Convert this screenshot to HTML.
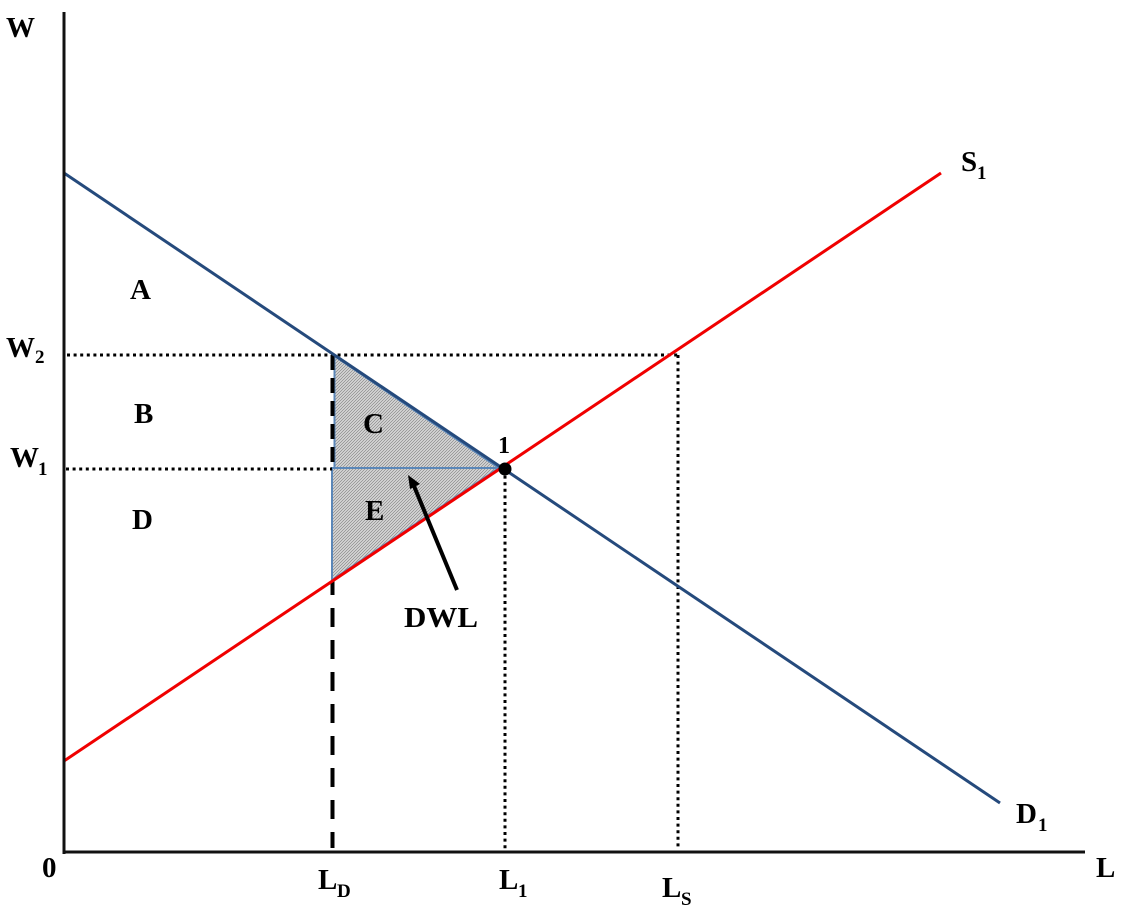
<!DOCTYPE html>
<html lang="en">
<head>
<meta charset="utf-8">
<title>Deadweight loss labor market diagram</title>
<style>
html,body{margin:0;padding:0;background:#fff;width:1124px;height:914px;overflow:hidden}
svg{display:block}
text{font-family:"Liberation Serif",serif;font-weight:bold;fill:#000;font-size:29px}
.sub{font-size:19px}
</style>
</head>
<body>
<svg id="chart" width="1124" height="914" viewBox="0 0 1124 914" xmlns="http://www.w3.org/2000/svg">
<defs>
<pattern id="hatch" patternUnits="userSpaceOnUse" width="3" height="3">
<rect width="3" height="3" fill="#e4e4e4"/>
<path d="M0 3L3 0M-1 1L1 -1M2 4L4 2" stroke="#969696" stroke-width="1"/>
</pattern>
</defs>
<g id="marks"></g>
<text x="6" y="37">W</text>
<text x="1096" y="877">L</text>
<text x="42" y="877">0</text>
<text x="6" y="357">W<tspan class="sub" x="35" y="363">2</tspan></text>
<text x="10" y="467">W<tspan class="sub" x="38" y="475">1</tspan></text>
<text x="318" y="889">L<tspan class="sub" x="337" y="897">D</tspan></text>
<text x="499" y="889">L<tspan class="sub" x="518" y="897">1</tspan></text>
<text x="662" y="897">L<tspan class="sub" x="681" y="905">S</tspan></text>
<text x="961" y="171">S<tspan class="sub" x="977" y="179">1</tspan></text>
<text x="1016" y="823">D<tspan class="sub" x="1038" y="831">1</tspan></text>
<text x="130" y="299">A</text>
<text x="134" y="423">B</text>
<text x="363" y="433">C</text>
<text x="132" y="529">D</text>
<text x="365" y="520">E</text>
<text x="498" y="453" style="font-size:24px">1</text>
<text x="404" y="627" textLength="74" lengthAdjust="spacingAndGlyphs">DWL</text>
</svg>
<script>
// Values are in chart units (quantity of labor L, wage W).
const supplyL = [0, 87.7];
const supplyW = [9.1, 67.9];
const demandL = [0, 93.6];
const demandW = [67.9, 4.9];
const wageLevels = [49.7, 38.3];
const laborLevels = [26.8, 44.1, 61.4];
const supplyAtLD = 27.1;
const axisMaxW = 84;

function sx(v){ return 64 + v * 10; }
function sy(v){ return 852 - v * 10; }

const NS = 'http://www.w3.org/2000/svg';
const marks = document.getElementById('marks');
function add(tag){
  const el = document.createElementNS(NS, tag);
  marks.appendChild(el);
  return el;
}
function line(el, x1, y1, x2, y2, color, width, dash){
  el.setAttribute('x1', x1);
  el.setAttribute('y1', y1);
  el.setAttribute('x2', x2);
  el.setAttribute('y2', y2);
  el.setAttribute('stroke', color);
  el.setAttribute('stroke-width', width);
  if (dash) el.setAttribute('stroke-dasharray', dash);
}

const [w2, w1] = wageLevels;
const [lD, l1, lS] = laborLevels;

// Deadweight loss triangle: upper part (C) and lower part (E)
const triC = add('polygon');


triC.setAttribute('points', (sx(lD)+2.5)+','+(sy(w2)+1)+' '+(sx(l1)-6)+','+(sy(w1)-1)+' '+(sx(lD)+2.5)+','+(sy(w1)-1));
triC.setAttribute('fill', 'url(#hatch)');
triC.setAttribute('stroke', '#5b87b8');
triC.setAttribute('stroke-width', '2');

const triE = add('polygon');


triE.setAttribute('points', sx(lD)+','+(sy(w1)-1)+' '+(sx(l1)-6)+','+(sy(w1)-1)+' '+sx(lD)+','+(sy(supplyAtLD)-1));
triE.setAttribute('fill', 'url(#hatch)');
triE.setAttribute('stroke', '#5b87b8');
triE.setAttribute('stroke-width', '2');

// Dotted guides
const w2Guide = add('line');


line(w2Guide, 67, sy(w2), sx(lS), sy(w2), '#000', 3, '3 3.6');

const w1Guide = add('line');


line(w1Guide, 66, sy(w1), sx(lD), sy(w1), '#000', 3, '3 3.6');

const l1Guide = add('line');


line(l1Guide, sx(l1), sy(w1), sx(l1), 850, '#000', 3, '3 3.6');

const lSGuide = add('line');


line(lSGuide, sx(lS), sy(w2), sx(lS), 850, '#000', 3, '3 3.6');

// Dashed LD line, upper and lower parts
const lDUpper = add('line');


line(lDUpper, sx(lD)+0.5, sy(w2), sx(lD)+0.5, sy(w1)-3, '#000', 4, '15 8');

const lDLower = add('line');


line(lDLower, sx(lD)+0.5, sy(supplyAtLD), sx(lD)+0.5, 848, '#000', 4, '14 13 19 13 19 13 19 13 19 13 19 13 19 13 19 13 19 13');

// Supply and demand curves
const demand = add('line');


line(demand, sx(demandL[0]), sy(demandW[0]), sx(demandL[1]), sy(demandW[1]), '#254a7c', 3);

const supply = add('line');


line(supply, sx(supplyL[0]), sy(supplyW[0]), sx(supplyL[1]), sy(supplyW[1]), '#f00000', 3);

// Axes
const yAxis = add('line');


line(yAxis, sx(0), sy(axisMaxW), sx(0), 854, '#111', 3);

const xAxis = add('line');


line(xAxis, 63, sy(0), 1085, sy(0), '#111', 3);

// Equilibrium point
const eq = add('circle');


eq.setAttribute('cx', sx(l1));
eq.setAttribute('cy', sy(w1));
eq.setAttribute('r', 6.5);
eq.setAttribute('fill', '#000');

// DWL arrow (annotation)
const arrow = add('line');


line(arrow, 457, 590, 414, 486, '#000', 4);

const head = add('polygon');


head.setAttribute('points', '408,475 420,484 410,489');
head.setAttribute('fill', '#000');
</script>
</body>
</html>
